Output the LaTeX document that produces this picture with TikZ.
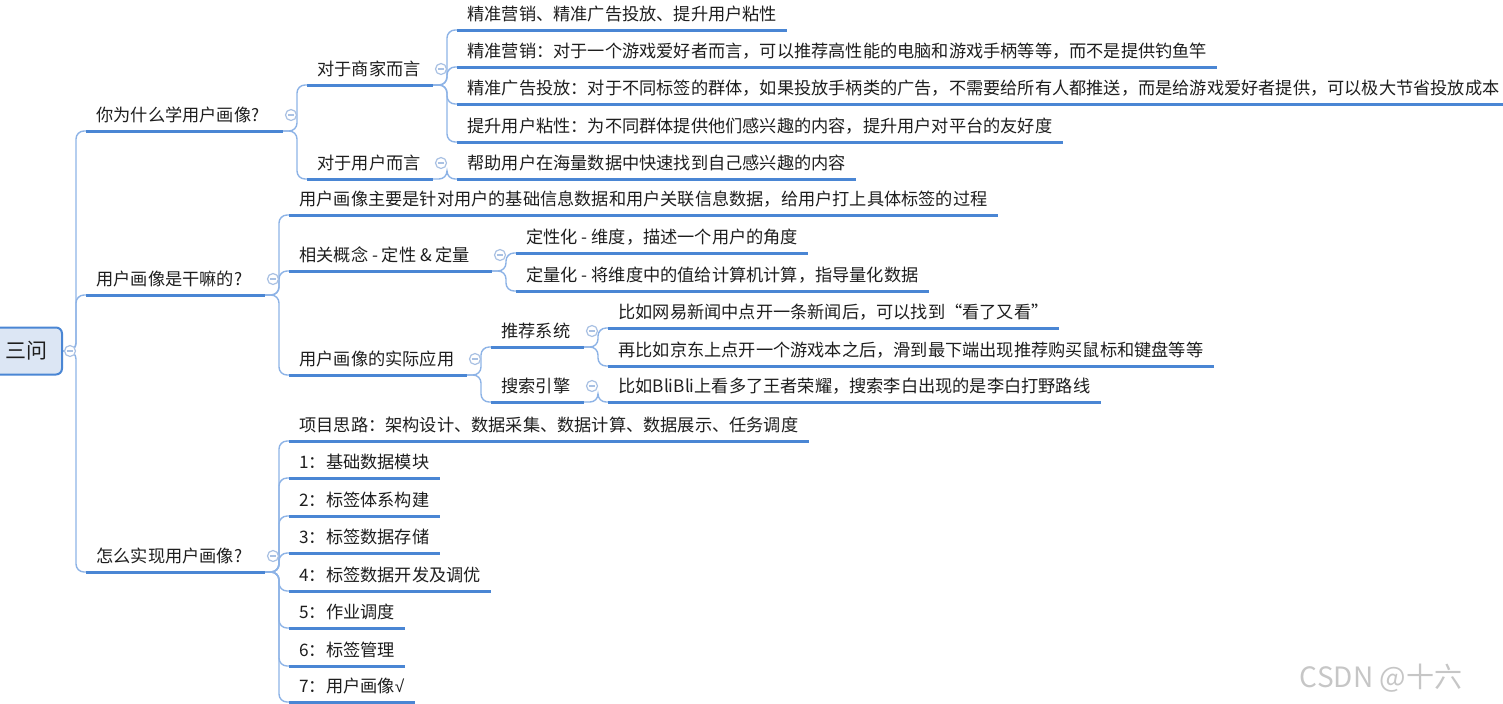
\documentclass[tikz,border=0pt]{standalone}
\usepackage{fontspec}
\usepackage{xcolor}
\usepackage{tikz}
\usetikzlibrary{calc}
\newfontfamily\cjk{Noto Sans CJK SC}
\newfontfamily\symfont{Liberation Sans}
\definecolor{lineblue}{HTML}{4A86D4}
\definecolor{linklight}{HTML}{8DB3E6}
\definecolor{rootfill}{HTML}{DCE6F4}
\definecolor{foldgray}{HTML}{A9C1E3}
\definecolor{textdark}{HTML}{1E1E1E}
\tikzset{
	topic/.style={anchor=south west, inner xsep=5pt, inner ysep=4.5pt, text depth=0pt,
		font=\cjk\fontsize{8.6}{10}\selectfont, text=textdark},
	rootbox/.style={rectangle, rounded corners=3pt, draw=lineblue, fill=rootfill, line width=1pt,
		minimum width=36pt, minimum height=23.5pt, font=\cjk\fontsize{10.5}{12}\selectfont, text=textdark},
	uline/.style={lineblue, line width=1.5pt},
	link/.style={linklight, line width=0.7pt, rounded corners=4pt},
	fold/.style={circle, draw=foldgray, fill=white, line width=0.6pt, minimum size=5.5pt, inner sep=0pt,
		path picture={\draw[foldgray, line width=0.6pt]
			([xshift=-1.6pt]path picture bounding box.center) -- ([xshift=1.6pt]path picture bounding box.center);}}
}
\begin{document}
\begin{tikzpicture}[x=0.5pt,y=-0.5pt]
	\useasboundingbox (0,0) rectangle (1503,703);
	\node[rootbox] (root) at (26,351) {三问};
	% first level
	\node[topic] (why) at (86,131) {你为什么学用户画像?};
	\node[topic] (what) at (86,295) {用户画像是干嘛的?};
	\node[topic] (how) at (86,572) {怎么实现用户画像?};
	% why
	\node[topic] (biz) at (307,85) {对于商家而言};
	\node[topic] (usr) at (307,179) {对于用户而言};
	\node[topic] (biz1) at (457,30) {精准营销、精准广告投放、提升用户粘性};
	\node[topic] (biz2) at (457,67) {精准营销：对于一个游戏爱好者而言，可以推荐高性能的电脑和游戏手柄等等，而不是提供钓鱼竿};
	\node[topic] (biz3) at (457,104) {精准广告投放：对于不同标签的群体，如果投放手柄类的广告，不需要给所有人都推送，而是给游戏爱好者提供，可以极大节省投放成本};
	\node[topic] (biz4) at (457,142) {提升用户粘性：为不同群体提供他们感兴趣的内容，提升用户对平台的友好度};
	\node[topic] (usr1) at (457,179) {帮助用户在海量数据中快速找到自己感兴趣的内容};
	% what
	\node[topic] (def) at (289,215) {用户画像主要是针对用户的基础信息数据和用户关联信息数据，给用户打上具体标签的过程};
	\node[topic] (concept) at (289,271) {相关概念 - 定性 \& 定量};
	\node[topic] (apply) at (289,375) {用户画像的实际应用};
	\node[topic] (qual) at (516,253) {定性化 - 维度，描述一个用户的角度};
	\node[topic] (quant) at (516,291) {定量化 - 将维度中的值给计算机计算，指导量化数据};
	\node[topic] (rec) at (491,347) {推荐系统};
	\node[topic] (search) at (491,402) {搜索引擎};
	\node[topic] (rec1) at (608,328) {比如网易新闻中点开一条新闻后，可以找到“看了又看”};
	\node[topic] (rec2) at (608,366) {再比如京东上点开一个游戏本之后，滑到最下端出现推荐购买鼠标和键盘等等};
	\node[topic] (search1) at (608,402) {比如BliBli上看多了王者荣耀，搜索李白出现的是李白打野路线};
	% how
	\node[topic] (plan) at (289,441) {项目思路：架构设计、数据采集、数据计算、数据展示、任务调度};
	\node[topic] (s1) at (289,478) {1：基础数据模块};
	\node[topic] (s2) at (289,516) {2：标签体系构建};
	\node[topic] (s3) at (289,553) {3：标签数据存储};
	\node[topic] (s4) at (289,591) {4：标签数据开发及调优};
	\node[topic] (s5) at (289,628) {5：作业调度};
	\node[topic] (s6) at (289,666) {6：标签管理};
	\node[topic] (s7) at (289,702) {7：用户画像{\symfont √}};

	\foreach \c in {why,what,how}
		\draw[link] (root.east) -| ($(\c.south west)+(-10,0)$) -- (\c.south west);
	\foreach \p/\c in {why/biz,why/usr,biz/biz1,biz/biz2,biz/biz3,biz/biz4,usr/usr1,
			what/def,what/concept,what/apply,concept/qual,concept/quant,apply/rec,apply/search,
			rec/rec1,rec/rec2,search/search1,how/plan,how/s1,how/s2,how/s3,how/s4,how/s5,how/s6,how/s7}
		\draw[link] (\p.south east) -| ($(\c.south west)+(-10,0)$) -- (\c.south west);
	% parents: underline runs up to the fold mark
	\foreach \p/\c in {why/biz,what/def,how/plan,biz/biz1,usr/usr1,concept/qual,apply/rec,rec/rec1,search/search1}
		\draw[uline] (\p.south west) -- ($(\c.south west |- \p.south west)+(-24,0)$);
	\foreach \n in {biz1,biz2,biz3,biz4,usr1,def,qual,quant,rec1,rec2,search1,plan,s1,s2,s3,s4,s5,s6,s7}
		\draw[uline] (\n.south west) -- (\n.south east);
	% fold marks
	\node[fold] (f-root) at ($(root.east)+(7,0)$) {};
	\foreach \p/\c in {why/biz,biz/biz1,usr/usr1,what/def,concept/qual,apply/rec,rec/rec1,search/search1,how/plan}
		\node[fold] (f-\p) at ($(\c.south west |- \p.south east)+(-16,-16)$) {};

	\node[font=\cjk\fontsize{14}{16}\selectfont, text=gray!45] (mark) at (1381,678) {CSDN @十六};
\end{tikzpicture}
\end{document}
